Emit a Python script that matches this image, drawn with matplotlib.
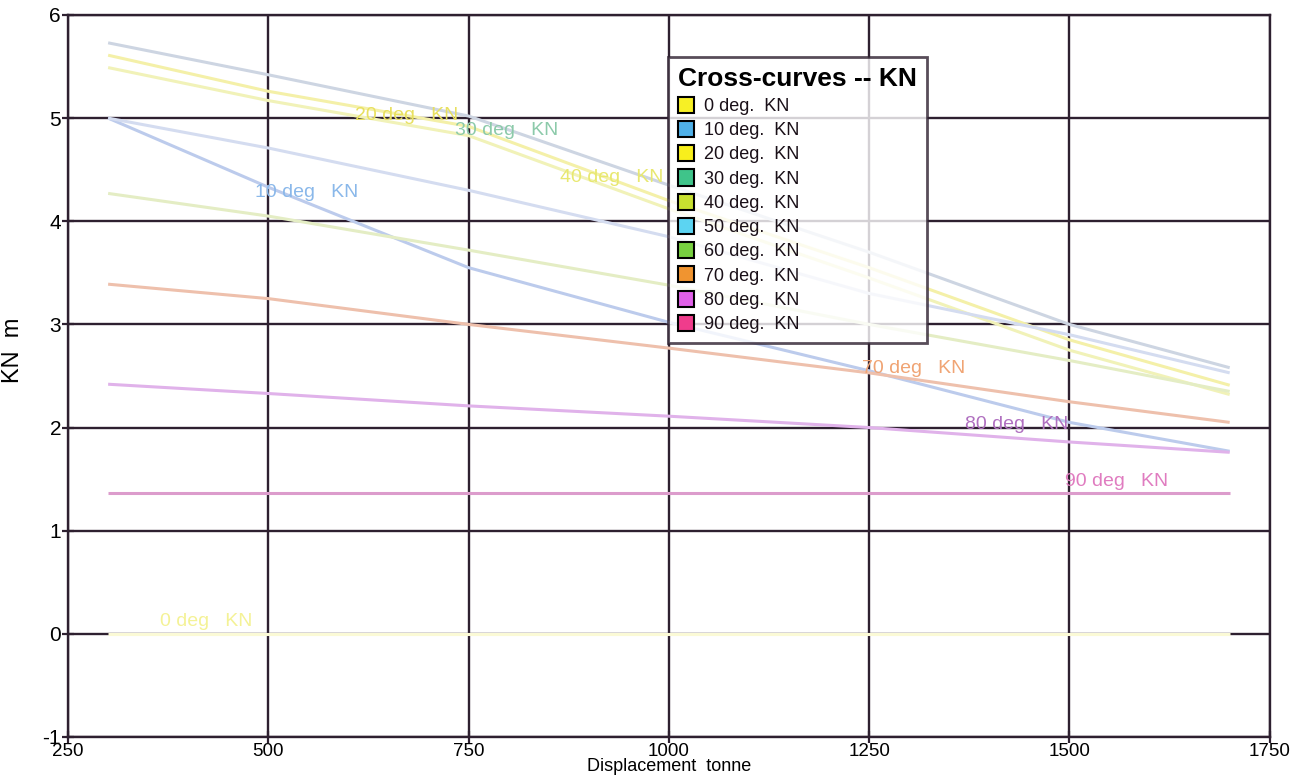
import matplotlib
matplotlib.use("Agg")
import matplotlib.pyplot as plt
from matplotlib.patches import Patch

plt.rcParams['font.family'] = ['Liberation Sans', 'DejaVu Sans']
plt.rcParams['axes.unicode_minus'] = False

disp = [300, 500, 750, 1000, 1250, 1500, 1700]

kn_0 = [0.0, 0.0, 0.0, 0.0, 0.0, 0.0, 0.0]
kn_10 = [5.00, 4.33, 3.55, 3.02, 2.55, 2.05, 1.77]
kn_20 = [5.61, 5.26, 4.92, 4.20, 3.55, 2.85, 2.41]
kn_30 = [5.73, 5.42, 5.02, 4.35, 3.70, 3.00, 2.58]
kn_40 = [5.49, 5.17, 4.83, 4.12, 3.45, 2.75, 2.32]
kn_50 = [5.00, 4.71, 4.30, 3.85, 3.30, 2.90, 2.53]
kn_60 = [4.27, 4.05, 3.72, 3.38, 3.00, 2.65, 2.35]
kn_70 = [3.39, 3.25, 3.00, 2.77, 2.53, 2.25, 2.05]
kn_80 = [2.42, 2.33, 2.21, 2.11, 2.00, 1.86, 1.76]
kn_90 = [1.37, 1.37, 1.37, 1.37, 1.37, 1.37, 1.37]

names = ['0 deg.  KN', '10 deg.  KN', '20 deg.  KN', '30 deg.  KN', '40 deg.  KN',
         '50 deg.  KN', '60 deg.  KN', '70 deg.  KN', '80 deg.  KN', '90 deg.  KN']
series = [kn_0, kn_10, kn_20, kn_30, kn_40, kn_50, kn_60, kn_70, kn_80, kn_90]

# faded line colours as printed, and the legend swatch colours
line_cols = ['#fbfad6', '#bccbec', '#f4f0a8', '#cdd5e2', '#f1f2b8',
             '#d4dcf0', '#e4edc4', '#eec0ac', '#e0b2ea', '#dc9ccc']
patch_cols = ['#f7f025', '#4fb0e8', '#f8ef1c', '#3fc48a', '#c8e030',
              '#5cd4f2', '#78d040', '#f09430', '#e060e8', '#f03c8c']

# curve labels written on the chart
lab_text = ['0 deg   KN', '10 deg   KN', '20 deg   KN', '30 deg   KN', '40 deg   KN',
            '70 deg   KN', '80 deg   KN', '90 deg   KN']
lab_x = [365, 483, 608, 733, 864, 1241, 1369, 1494]
lab_y = [0.12, 4.28, 5.03, 4.88, 4.42, 2.57, 2.03, 1.48]
lab_col = ['#f4f296', '#8ab8ea', '#e8e060', '#8ccaaa', '#e8e870',
           '#f0a474', '#b070c0', '#e07cc0']

grid_col = '#2e2030'

fig = plt.figure(figsize=(13.09, 7.76), dpi=100)
ax = fig.add_axes([0.052, 0.0503, 0.918, 0.9304])

ax.set_xlim(250, 1750)
ax.set_ylim(-1, 6)
ax.set_xticks([250, 500, 750, 1000, 1250, 1500, 1750])
ax.set_yticks([-1, 0, 1, 2, 3, 4, 5, 6])
ax.grid(True, color=grid_col, linewidth=1.7, zorder=1)
ax.set_axisbelow(True)
for sp in ax.spines.values():
    sp.set_color(grid_col)
    sp.set_linewidth(1.7)

for ys, col in zip(series, line_cols):
    ax.plot(disp, ys, color=col, linewidth=2.2, zorder=3, solid_capstyle='butt')

for t, x, y, c in zip(lab_text, lab_x, lab_y, lab_col):
    ax.text(x, y, t, color=c, fontsize=14, va='center', ha='left', zorder=4)

ax.tick_params(axis='both', direction='inout', length=8, width=1.6,
               color=grid_col, labelsize=15, pad=1)
ax.tick_params(axis='x', labelsize=13.5, pad=0)
ax.set_xlabel('Displacement  tonne', fontsize=13)
ax.xaxis.set_label_coords(0.5, -0.029)
ax.set_ylabel('KN  m', fontsize=17)
ax.yaxis.set_label_coords(-0.037, 0.535)

handles = [Patch(facecolor=c, edgecolor='black', linewidth=1.5) for c in patch_cols]
leg = ax.legend(handles, names, title='Cross-curves -- KN', loc='upper left',
                bbox_to_anchor=(0.4995, 0.942), borderaxespad=0, fontsize=13,
                frameon=True, fancybox=False, handlelength=0.9, handleheight=1.0,
                handletextpad=0.5, labelspacing=0.33, borderpad=0.55,
                title_fontproperties={'weight': 'bold', 'size': 19})
leg._legend_box.align = 'left'
leg.get_frame().set_edgecolor(grid_col)
leg.get_frame().set_linewidth(2)
leg.set_zorder(5)
for t in leg.get_texts():
    t.set_color('#1a1018')

fig.savefig('out.png', dpi=100, facecolor='white')
